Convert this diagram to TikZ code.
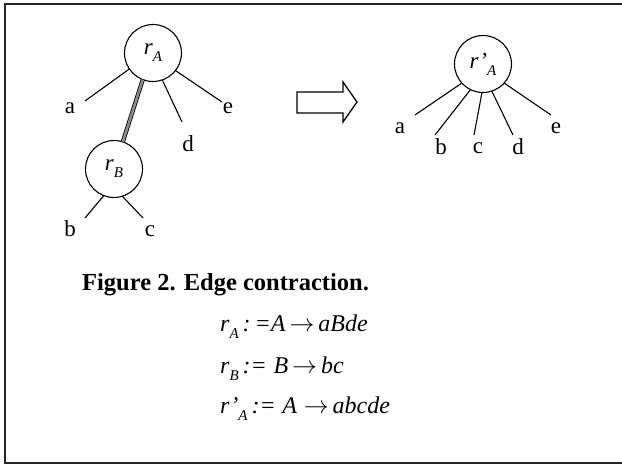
\documentclass[tikz,border=0pt]{standalone}
\usepackage{fontspec}
\setmainfont{Liberation Serif}
\newcommand\mysub[1]{\raisebox{-0.3em}{\fontsize{15}{15}\selectfont\itshape #1}}
\begin{document}
\begin{tikzpicture}[x=1pt,y=-1pt,
  vtx/.style={circle,draw,line width=1.1pt,minimum size=57pt,inner sep=0pt,outer sep=0pt,font=\fontsize{23}{23}\selectfont\itshape},
  lbl/.style={font=\fontsize{23}{23}\selectfont,inner sep=0pt},
  eq/.style={font=\fontsize{24}{24}\selectfont\itshape,inner sep=0pt,anchor=base west},
  edgeline/.style={line width=1.1pt},
  thickedge/.style={double=black!45,double distance=2.6pt,line width=0.8pt}]
\useasboundingbox (0,0) rectangle (622,466);
\draw[line width=1.6pt, black!85] (622,4) -- (5,4) -- (5,463) -- (622,463);
% left tree
\node[vtx] (rA) at (153,53) {r\mysub{A}};
\node[vtx] (rB) at (114,169) {r\mysub{B}};
\coordinate (pa) at (85,101);
\coordinate (pd) at (182,122);
\coordinate (pe) at (222,102);
\coordinate (pb) at (85,218);
\coordinate (pc) at (143,218);
\node[lbl] (la) at (70,108) {a};
\node[lbl] (ld) at (188,144) {d};
\node[lbl] (le) at (228,108) {e};
\node[lbl] (lb) at (70,229) {b};
\node[lbl] (lc) at (150,231) {c};
\draw[edgeline] (rA.214) -- (pa);
\draw[edgeline] (rA.289) -- (pd);
\draw[edgeline] (rA.322) -- (pe);
\draw[thickedge] (rA.249) -- (rB.72);
\draw[edgeline] (rB.249) -- (pb);
\draw[edgeline] (rB.287) -- (pc);
% arrow
\draw[line width=1.3pt,line join=miter] (297,92) -- (343,92) -- (343,82) -- (357,102) -- (343,122) -- (343,113) -- (297,113) -- cycle;
% right tree
\node[vtx] (rC) at (483,64) {r’\mysub{A}};
\coordinate (qa) at (415,115);
\coordinate (qb) at (435,135);
\coordinate (qc) at (474,135);
\coordinate (qd) at (513,135);
\coordinate (qe) at (551,115);
\node[lbl] (ma) at (400,128) {a};
\node[lbl] (mb) at (441,147) {b};
\node[lbl] (mc) at (478,148) {c};
\node[lbl] (md) at (518,147) {d};
\node[lbl] (me) at (556,128) {e};
\draw[edgeline] (rC.222) -- (qa);
\draw[edgeline] (rC.244) -- (qb);
\draw[edgeline] (rC.268) -- (qc);
\draw[edgeline] (rC.288) -- (qd);
\draw[edgeline] (rC.318) -- (qe);
% caption
\node[font=\fontsize{24.5}{24.5}\selectfont\bfseries,inner sep=0pt,anchor=base west] (cap) at (82,290) {Figure 2. Edge contraction.};
\node[eq] (e1) at (220,331) {r\mysub{A}\,:\,=A\,$\rightarrow$\,aBde};
\node[eq] (e2) at (220,373) {r\mysub{B}\,:=\;B\,$\rightarrow$\,bc};
\node[eq] (e3) at (220,413) {r’\mysub{A}\,:=\;A\;$\rightarrow$\,abcde};
\end{tikzpicture}
\end{document}
